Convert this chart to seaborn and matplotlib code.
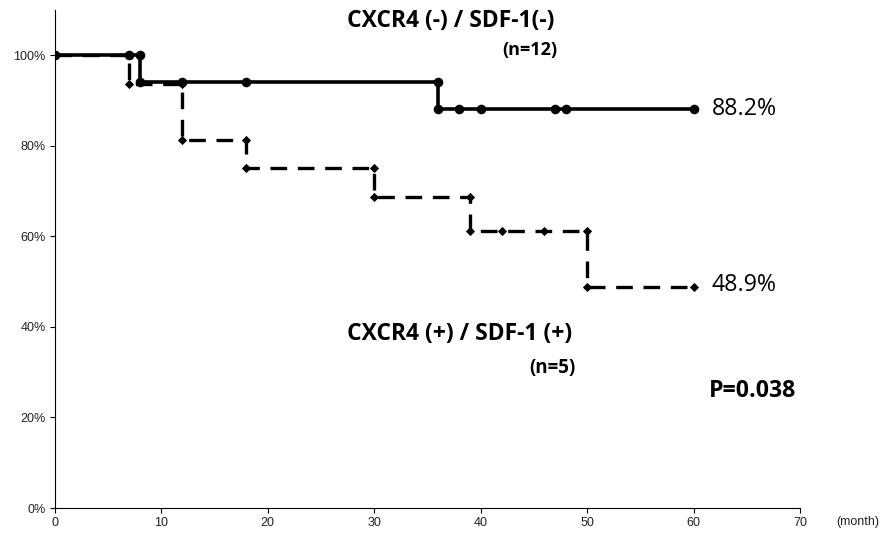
import numpy as np
import pandas as pd
import matplotlib
matplotlib.use('Agg')
import matplotlib.pyplot as plt
import seaborn as sns

# KAPLAN-MEIER DATA
# CXCR4 (-) / SDF-1(-) : step curve
neg_time = [0, 8, 36, 60]
neg_surv = [100, 94.1, 88.2, 88.2]
# marks on the curve
neg_mark_time = [0, 7, 8, 8, 12, 18, 36, 36, 38, 40, 47, 48, 60]
neg_mark_surv = [100, 100, 100, 94.1, 94.1, 94.1, 94.1, 88.2, 88.2, 88.2, 88.2, 88.2, 88.2]

# CXCR4 (+) / SDF-1 (+) : step curve
pos_time = [0, 7, 12, 18, 30, 39, 50, 60]
pos_surv = [100, 93.75, 81.25, 75, 68.75, 61.1, 48.9, 48.9]
pos_mark_time = [7, 12, 12, 18, 18, 30, 30, 39, 39, 42, 46, 50, 50, 60]
pos_mark_surv = [93.75, 93.75, 81.25, 81.25, 75, 75, 68.75, 68.75, 61.1, 61.1, 61.1, 61.1, 48.9, 48.9]

x_ticks = [0, 10, 20, 30, 40, 50, 60, 70]
y_ticks = [0, 20, 40, 60, 80, 100]
y_tick_labels = ['0%', '20%', '40%', '60%', '80%', '100%']

df_neg = pd.DataFrame({'time': neg_time, 'surv': neg_surv})
df_pos = pd.DataFrame({'time': pos_time, 'surv': pos_surv})
df_neg_marks = pd.DataFrame({'time': neg_mark_time, 'surv': neg_mark_surv})
df_pos_marks = pd.DataFrame({'time': pos_mark_time, 'surv': pos_mark_surv})

sns.set_style('white')
plt.rcParams['font.family'] = ['Liberation Sans', 'DejaVu Sans']

fig = plt.figure(figsize=(8.85, 5.33), dpi=100)
ax = fig.add_axes([0.0616, 0.0469, 0.8424, 0.9343])

# curves
sns.lineplot(data=df_pos, x='time', y='surv', ax=ax, color='black', linewidth=2.4,
             drawstyle='steps-post', estimator=None, sort=False, dashes=False,
             linestyle=(0, (5, 3.2)))
sns.lineplot(data=df_neg, x='time', y='surv', ax=ax, color='black', linewidth=2.6,
             drawstyle='steps-post', estimator=None, sort=False)

# marks
sns.scatterplot(data=df_pos_marks, x='time', y='surv', ax=ax, color='black',
                marker='D', s=22, linewidth=0, zorder=5)
sns.scatterplot(data=df_neg_marks, x='time', y='surv', ax=ax, color='black',
                marker='o', s=48, linewidth=0, zorder=6)

ax.set_xlim(0, 70)
ax.set_ylim(0, 110)
ax.set_xticks(x_ticks)
ax.set_xticklabels([str(t) for t in x_ticks], fontsize=9)
ax.set_yticks(y_ticks)
ax.set_yticklabels(y_tick_labels, fontsize=9)
ax.set_xlabel('')
ax.set_ylabel('')
ax.tick_params(axis='both', direction='out', length=3.5, width=0.8, color='black',
               pad=3, bottom=True, left=True, labelcolor='#222222')
sns.despine(ax=ax)
for side in ['left', 'bottom']:
    ax.spines[side].set_color('black')
    ax.spines[side].set_linewidth(0.8)

# annotations
txt = ['Open Sans', 'DejaVu Sans']
ax.text(37.2, 107.5, 'CXCR4 (-) / SDF-1(-)', ha='center', va='center',
        fontsize=16.5, fontweight='bold', family=txt, color='black', clip_on=False)
ax.text(47.2, 101.1, '(n=12)', ha='right', va='center',
        fontsize=13, fontweight='bold', family=txt, color='black')
ax.text(61.7, 88.2, '88.2%', ha='left', va='center', fontsize=16.7,
        family=txt, color='black')
ax.text(61.7, 49.3, '48.9%', ha='left', va='center', fontsize=16.7,
        family=txt, color='black')
ax.text(38.0, 38.4, 'CXCR4 (+) / SDF-1 (+)', ha='center', va='center',
        fontsize=16.5, fontweight='bold', family=txt, color='black')
ax.text(48.9, 30.9, '(n=5)', ha='right', va='center',
        fontsize=13.5, fontweight='bold', family=txt, color='black')
ax.text(61.4, 25.8, 'P=0.038', ha='left', va='center',
        fontsize=16.7, fontweight='bold', family=txt, color='black')
ax.text(73.4, -3.1, '(month)', ha='left', va='center', fontsize=9,
        family=['Liberation Sans'], color='#222222', clip_on=False)

fig.savefig('out.png', dpi=100)
